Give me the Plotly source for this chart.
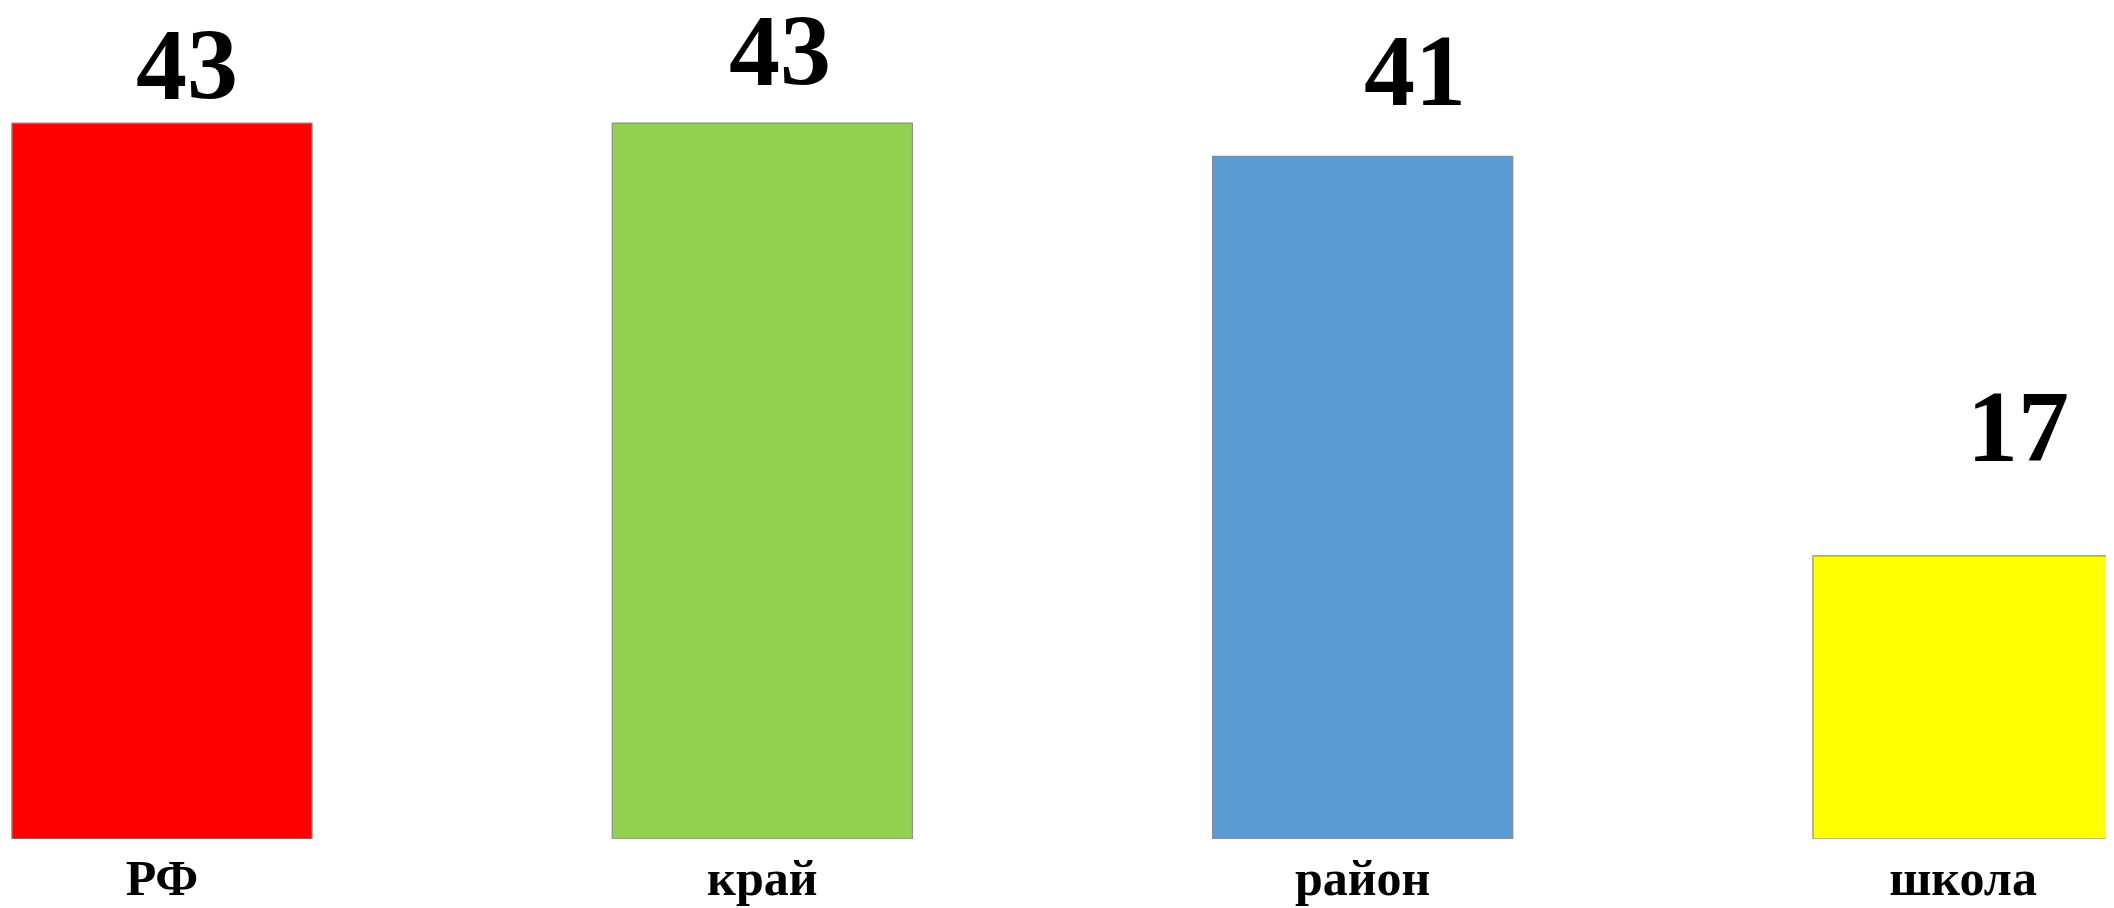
import plotly.graph_objects as go

categories = ["РФ", "край", "район", "школа"]
values = [43, 43, 41, 17]
value_labels = ["43", "43", "41", "17"]
colors = ["#FF0000", "#92D050", "#5B9BD5", "#FFFF00"]

# label offsets (style) in pixels
label_xshift = [25, 18, 52, 55]
label_yshift = [59, 73, 86, 129]

fig = go.Figure()
fig.add_trace(go.Bar(
    x=categories, y=values, width=0.5,
    marker=dict(color=colors, line=dict(color="#8C8C8C", width=1.2)),
    hoverinfo="skip",
))

for c, v, t, dx, dy in zip(categories, values, value_labels, label_xshift, label_yshift):
    fig.add_annotation(x=c, y=v, text=t, showarrow=False,
                       xanchor="center", yanchor="middle",
                       xshift=dx, yshift=dy,
                       font=dict(family="Liberation Serif", size=102, color="black", weight="bold"))

fig.update_layout(
    width=2106, height=900,
    margin=dict(l=0, r=0, t=0, b=69, pad=0),
    plot_bgcolor="white", paper_bgcolor="white",
    showlegend=False,
    xaxis=dict(range=[-0.2565, 3.2515], showgrid=False, zeroline=False, showline=False,
               ticks="", automargin=False, ticklabelstandoff=5,
               tickfont=dict(family="Liberation Serif", size=50, color="black", weight="bold")),
    yaxis=dict(range=[0, 49.91], visible=False, automargin=False),
)

fig.write_html("out.html")
